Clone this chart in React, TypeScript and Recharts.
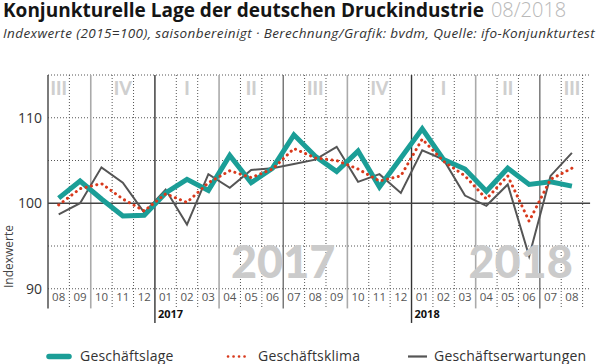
import React from 'react';
import { LineChart, Line, XAxis, YAxis, ReferenceLine, ReferenceDot } from 'recharts';

const months = ['08','09','10','11','12','01','02','03','04','05','06','07','08','09','10','11','12','01','02','03','04','05','06','07','08'];
const geschaeftslage = [100.6,102.6,100.5,98.5,98.6,101.2,102.8,101.5,105.6,102.4,104.1,108.0,105.5,103.7,106.1,101.9,105.3,108.7,105.1,104.0,101.4,104.1,102.2,102.5,102.0];
const geschaeftsklima = [99.8,101.7,102.3,100.5,99.1,101.1,100.1,102.4,103.8,103.0,104.0,106.4,105.3,105.0,104.0,102.6,103.2,107.5,104.9,103.2,100.5,103.2,97.9,102.8,104.1];
const geschaeftserwartungen = [98.7,100.0,104.2,102.4,98.9,101.6,97.5,103.4,101.8,103.9,104.1,104.6,105.1,106.6,102.5,103.4,101.2,106.2,105.1,100.9,99.7,102.2,93.8,103.2,105.9];
const quarterLabels = [
  { idx: 0, label: 'III' }, { idx: 3, label: 'IV' }, { idx: 6, label: 'I' }, { idx: 9, label: 'II' },
  { idx: 12, label: 'III' }, { idx: 15, label: 'IV' }, { idx: 18, label: 'I' }, { idx: 21, label: 'II' },
  { idx: 24, label: 'III' },
];
const yearMarks = [{ at: 4.5, label: '2017' }, { at: 16.5, label: '2018' }];
const watermarks = [{ idx: 10.5, label: '2017' }, { idx: 21.6, label: '2018' }];
const yTicks = [90, 100, 110];
const dottedY = [90, 95, 105, 110, 115];
const halfYearBounds = [10.5, 22.5];
const quarterBounds = [1.5, 7.5, 13.5, 19.5];

const data = months.map((m, i) => ({
  idx: i,
  month: m,
  lage: geschaeftslage[i],
  klima: geschaeftsklima[i],
  erw: geschaeftserwartungen[i],
}));

const FONT = '"Open Sans", Lato, sans-serif';
const WFONT = 'Lato, "Open Sans", sans-serif';
const X_MIN = -0.5;
const X_MAX = 24.5;
const X_GRID_END = 24.85;
const Y_TOP = 115;
const Y_LABEL_BOTTOM = 87.7;
const Y_YEAR_BOTTOM = 86.0;

const monthBounds: number[] = [];
for (let i = 0; i < months.length - 1; i++) {
  const b = i + 0.5;
  if (yearMarks.some((y) => y.at === b) || halfYearBounds.includes(b) || quarterBounds.includes(b)) continue;
  monthBounds.push(b);
}
monthBounds.push(X_MAX);

export default function App() {
  return (
    <div style={{ position: 'absolute', left: 0, top: 0, width: 600, height: 364, background: '#fff', fontFamily: FONT }}>
      <svg width={600} height={364} style={{ position: 'absolute', left: 0, top: 0 }}>
        <text x={3} y={17} fontFamily={FONT} fontSize={19} fontWeight={700} fill="#151515">
          Konjunkturelle Lage der deutschen Druckindustrie
          <tspan dx={7} fontWeight={300} fill="#b8b8b8" fontSize={20}>08/2018</tspan>
        </text>
        <text x={3} y={37.5} fontFamily={FONT} fontSize={13.5} letterSpacing={0.4} fontStyle="italic" fill="#333">
          Indexwerte (2015=100), saisonbereinigt · Berechnung/Grafik: bvdm, Quelle: ifo-Konjunkturtest
        </text>
        <text x={13} y={256.5} transform="rotate(-90, 13, 256.5)" textAnchor="middle" fontFamily={FONT} fontSize={12} fill="#444">
          Indexwerte
        </text>
      </svg>
      <div style={{ position: 'absolute', left: 0, top: 0 }}>
        <LineChart width={600} height={364} data={data} margin={{ top: 75, right: 17.4, bottom: 35.25, left: 0 }}>
          <XAxis
            dataKey="idx"
            type="number"
            domain={[X_MIN, X_MAX]}
            ticks={months.map((_, i) => i)}
            tickFormatter={(v: number) => months[v]}
            axisLine={false}
            tickLine={false}
            tickSize={4}
            tickMargin={0}
            height={40}
            interval={0}
            allowDataOverflow
            tick={{ fontSize: 11.5, fill: '#555', fontFamily: FONT }}
          />
          <YAxis
            type="number"
            domain={[90, Y_TOP]}
            ticks={yTicks}
            axisLine={false}
            tickLine={false}
            tickSize={6}
            tickMargin={0}
            width={48}
            allowDataOverflow
            tick={{ fontSize: 14, fill: '#333', fontFamily: FONT }}
          />
          {watermarks.map((w) => (
            <ReferenceDot
              key={'wm' + w.label}
              x={w.idx}
              y={91.26}
              ifOverflow="visible"
              shape={(p: any) => (
                <text x={p.cx} y={p.cy} textAnchor="middle" fontFamily={WFONT} fontWeight={900} fontSize={45} fill="#cbcbcb">
                  {w.label}
                </text>
              )}
            />
          ))}
          {quarterLabels.map((q, i) => (
            <ReferenceDot
              key={'q' + i}
              x={q.idx}
              y={112.66}
              ifOverflow="visible"
              shape={(p: any) => (
                <text x={p.cx} y={p.cy} textAnchor="middle" fontFamily={WFONT} fontWeight={900} fontSize={18} fill="#cfcfcf">
                  {q.label}
                </text>
              )}
            />
          ))}
          {dottedY.map((v) => (
            <ReferenceLine
              key={'hy' + v}
              segment={[{ x: X_MIN, y: v }, { x: X_GRID_END, y: v }]}
              ifOverflow="visible"
              stroke="#555"
              strokeWidth={1}
              strokeDasharray="1 2"
            />
          ))}
          {monthBounds.map((b) => (
            <ReferenceLine
              key={'mb' + b}
              segment={[{ x: b, y: Y_TOP }, { x: b, y: Y_LABEL_BOTTOM }]}
              ifOverflow="visible"
              stroke="#555"
              strokeWidth={1}
              strokeDasharray="1 2"
            />
          ))}
          {quarterBounds.map((b) => (
            <ReferenceLine
              key={'qb' + b}
              segment={[{ x: b, y: Y_TOP }, { x: b, y: Y_LABEL_BOTTOM }]}
              ifOverflow="visible"
              stroke="#aaa"
              strokeWidth={1.6}
            />
          ))}
          {halfYearBounds.map((b) => (
            <ReferenceLine
              key={'hb' + b}
              segment={[{ x: b, y: Y_TOP }, { x: b, y: Y_LABEL_BOTTOM }]}
              ifOverflow="visible"
              stroke="#666"
              strokeWidth={1.3}
            />
          ))}
          {yearMarks.map((ym) => (
            <ReferenceLine
              key={'yb' + ym.at}
              segment={[{ x: ym.at, y: Y_TOP }, { x: ym.at, y: Y_YEAR_BOTTOM }]}
              ifOverflow="visible"
              stroke="#333"
              strokeWidth={1.4}
            />
          ))}
          {yearMarks.map((ym) => (
            <ReferenceDot
              key={'yl' + ym.at}
              x={ym.at}
              y={86.6}
              ifOverflow="visible"
              shape={(p: any) => (
                <text x={p.cx + 3} y={p.cy} textAnchor="start" fontFamily={FONT} fontWeight={700} fontSize={11} fill="#111">
                  {ym.label}
                </text>
              )}
            />
          ))}
          <ReferenceLine
            segment={[{ x: X_MIN, y: Y_TOP }, { x: X_MIN, y: Y_LABEL_BOTTOM }]}
            ifOverflow="visible"
            stroke="#444"
            strokeWidth={1.4}
          />
          <ReferenceLine
            segment={[{ x: X_MIN, y: 100 }, { x: X_GRID_END, y: 100 }]}
            ifOverflow="visible"
            stroke="#444"
            strokeWidth={1.4}
          />
          <Line dataKey="erw" stroke="#555" strokeWidth={2} dot={false} isAnimationActive={false} />
          <Line dataKey="lage" stroke="#1b9e97" strokeWidth={5} dot={false} isAnimationActive={false} />
          <Line dataKey="klima" stroke="#d8391c" strokeWidth={3} strokeDasharray="0.1 5.4" strokeLinecap="round" dot={false} isAnimationActive={false} />
        </LineChart>
      </div>
      <svg width={600} height={364} style={{ position: 'absolute', left: 0, top: 0, pointerEvents: 'none' }}>
        <line x1={49} y1={356.5} x2={69} y2={356.5} stroke="#1b9e97" strokeWidth={5.5} strokeLinecap="round" />
        <text x={80} y={361} fontFamily={FONT} fontSize={14} letterSpacing={0.2} fill="#333">Geschäftslage</text>
        <line x1={228} y1={356.5} x2={247} y2={356.5} stroke="#d8391c" strokeWidth={2.6} strokeDasharray="0.1 5.4" strokeLinecap="round" />
        <text x={258} y={361} fontFamily={FONT} fontSize={14} letterSpacing={0.2} fill="#333">Geschäftsklima</text>
        <line x1={408} y1={356.5} x2={427} y2={356.5} stroke="#555" strokeWidth={2.2} />
        <text x={434} y={361} fontFamily={FONT} fontSize={14} letterSpacing={0.2} fill="#333">Geschäftserwartungen</text>
      </svg>
    </div>
  );
}
